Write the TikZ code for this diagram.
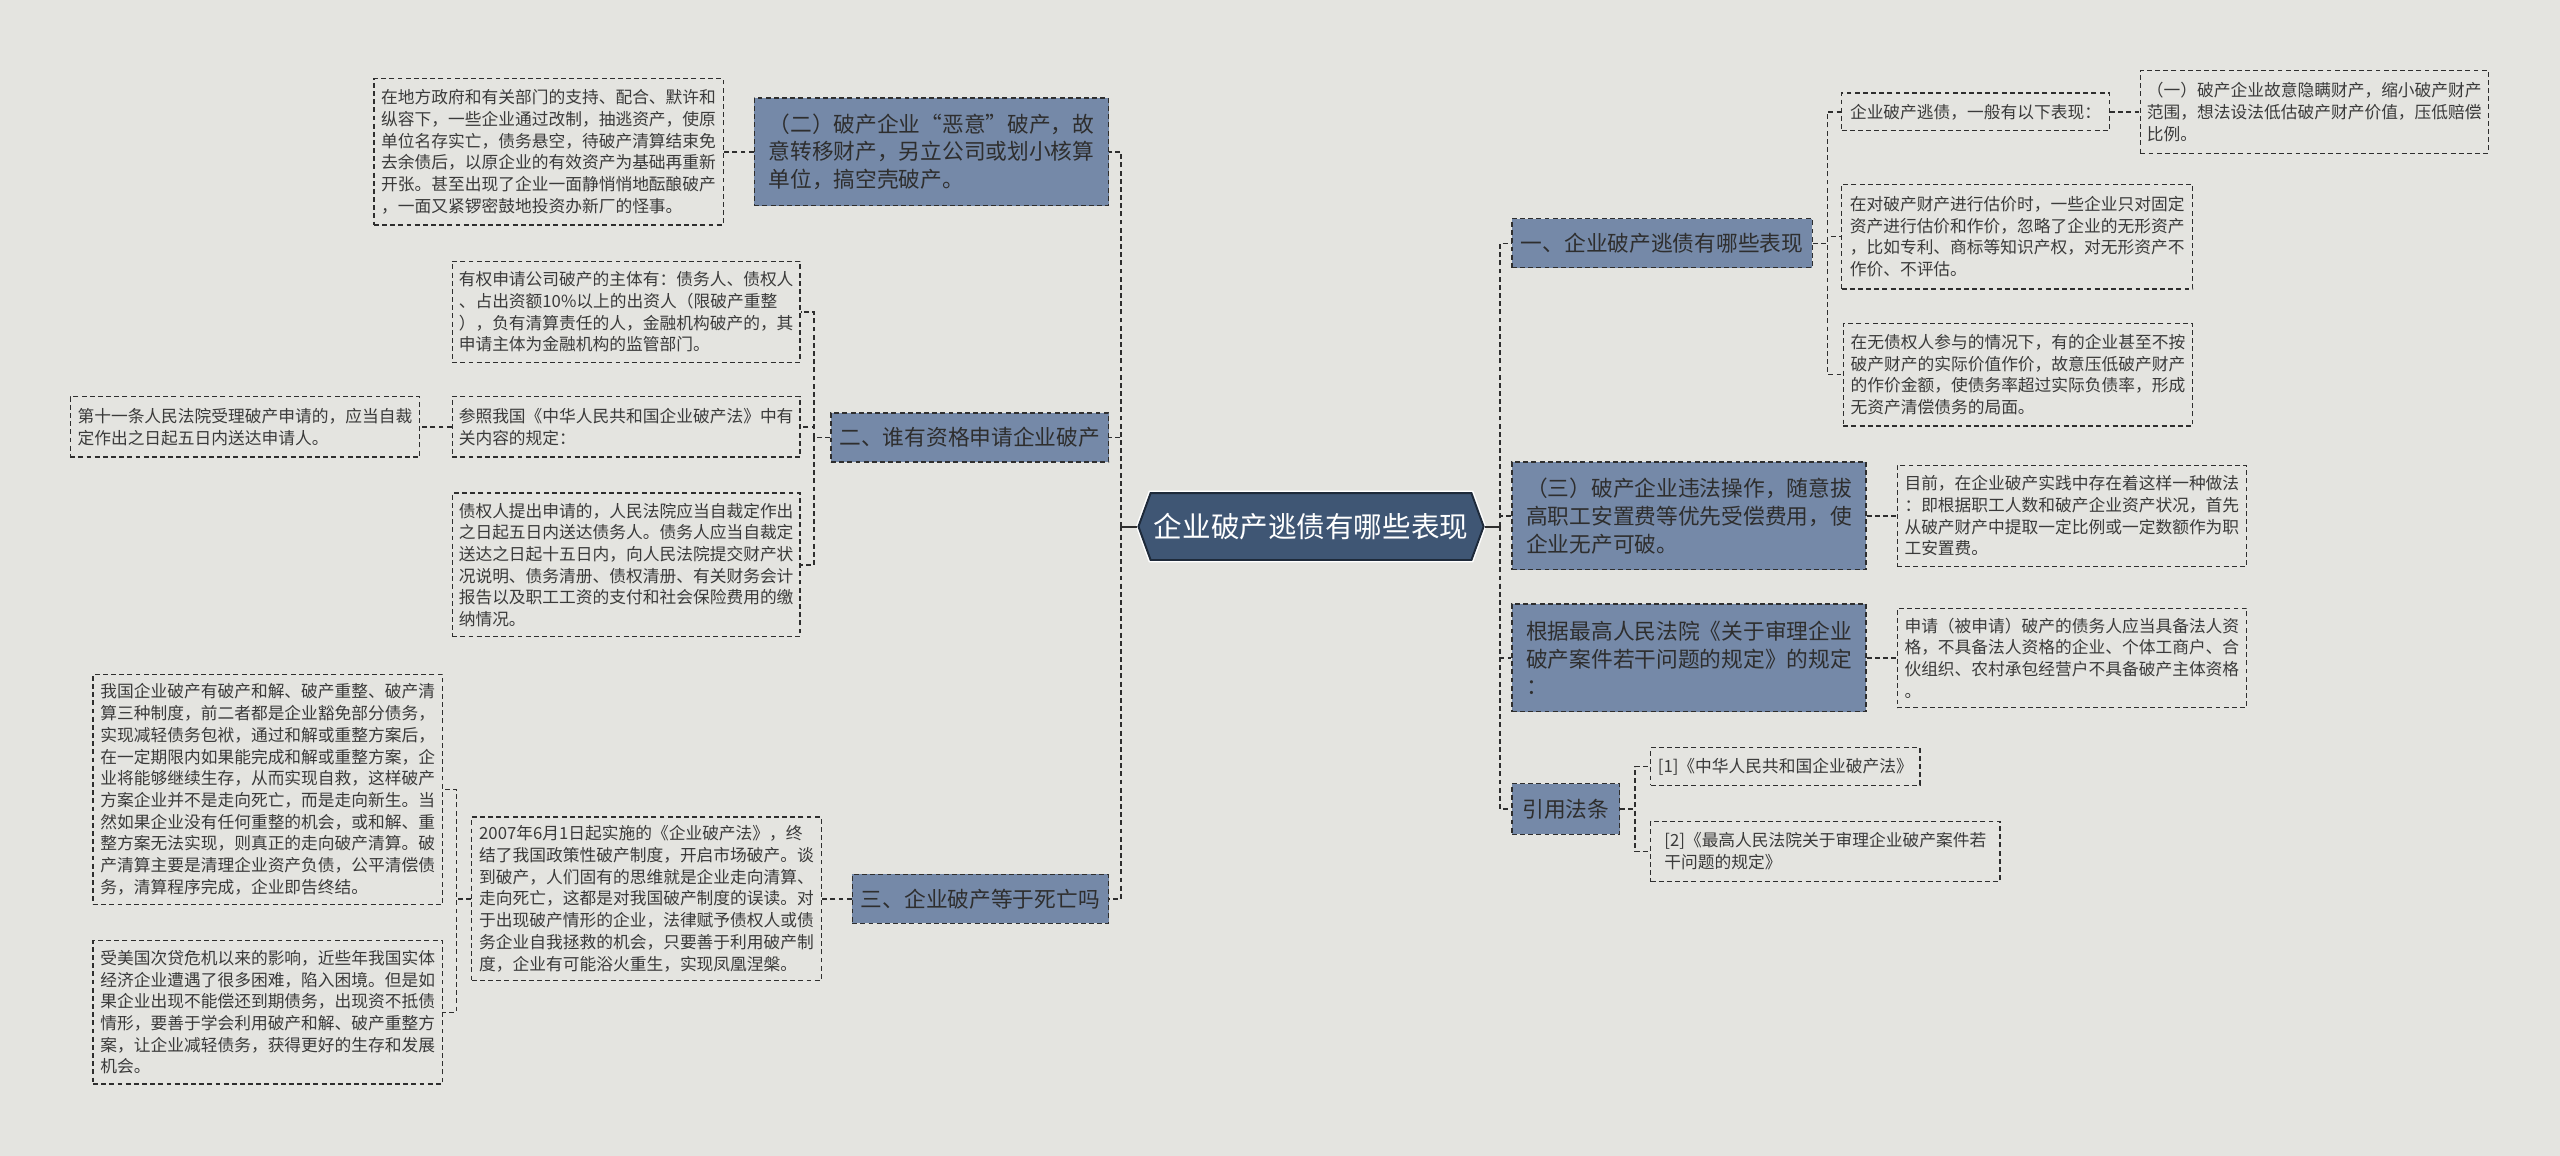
\documentclass[tikz,border=0pt]{standalone}
\usepackage{fontspec}
\setmainfont{Noto Sans CJK SC}
\usepackage{tikz}
\usetikzlibrary{shapes.symbols}
\definecolor{bg}{HTML}{E4E4E0}
\definecolor{rootfill}{HTML}{3F5674}
\definecolor{rootline}{HTML}{1E2A3A}
\definecolor{topicfill}{HTML}{7589A8}
\definecolor{ink}{HTML}{2E2E2E}
\definecolor{leaftext}{HTML}{3A3A3A}

\begin{document}
\begin{tikzpicture}[x=1pt, y=-1pt, font=\fontsize{10.25}{13.3}\selectfont]
	\tikzset{leaf/.style={draw=ink, dash pattern=on 3pt off 2pt, line width=0.8pt, text=leaftext, align=left, inner sep=2pt}}
	\tikzset{topic/.style={leaf, fill=topicfill, text=ink, font=\fontsize{13.3}{17}\selectfont}}
	\tikzset{root/.style={signal, signal to=east and west, signal pointer angle=140, fill=rootfill, draw=rootline, line width=1.2pt, preaction={draw=white, line width=3pt}, text=white, inner sep=2pt, font=\fontsize{17.5}{21}\selectfont}}
	\tikzset{sz/.style 2 args={minimum width=#1pt, minimum height=#2pt}}
	\tikzset{link/.style={draw=ink, line width=0.9pt, dash pattern=on 3pt off 2pt}}
	\tikzset{stub/.style={draw=ink, line width=1.2pt}}
	\fill[bg] (0,0) rectangle (1568,708);
	\useasboundingbox (0,0) rectangle (1568,708);
	% centre
	\node[root, sz={210}{41}] (root) at (803,322.5) {企业破产逃债有哪些表现};
	% left side
	\node[topic, sz={217}{66}] (L2) at (570.5,93) {（二）破产企业“恶意”破产，故\\意转移财产，另立公司或划小核算\\单位，搞空壳破产。};
	\node[topic, sz={170}{30}] (LA) at (594,268) {二、谁有资格申请企业破产};
	\node[topic, sz={157}{30}] (LB) at (600.5,550.5) {三、企业破产等于死亡吗};
	\node[leaf, sz={214}{89.5}] (ll1) at (336,93) {在地方政府和有关部门的支持、配合、默许和\\纵容下，一些企业通过改制，抽逃资产，使原\\单位名存实亡，债务悬空，待破产清算结束免\\去余债后，以原企业的有效资产为基础再重新\\开张。甚至出现了企业一面静悄悄地酝酿破产\\，一面又紧锣密鼓地投资办新厂的怪事。};
	\node[leaf, sz={213}{62}] (ll2) at (383.5,191) {有权申请公司破产的主体有：债务人、债权人\\、占出资额10\%以上的出资人（限破产重整\\），负有清算责任的人，金融机构破产的，其\\申请主体为金融机构的监管部门。};
	\node[leaf, sz={213}{37}] (ll3) at (383.5,261.5) {参照我国《中华人民共和国企业破产法》中有\\关内容的规定：};
	\node[leaf, sz={214}{37}] (ll4) at (150,261.5) {第十一条人民法院受理破产申请的，应当自裁\\定作出之日起五日内送达申请人。};
	\node[leaf, sz={213}{88}] (ll5) at (383.5,346) {债权人提出申请的，人民法院应当自裁定作出\\之日起五日内送达债务人。债务人应当自裁定\\送达之日起十五日内，向人民法院提交财产状\\况说明、债务清册、债权清册、有关财务会计\\报告以及职工工资的支付和社会保险费用的缴\\纳情况。};
	\node[leaf, sz={214}{100}] (ll6) at (396,550.5) {2007年6月1日起实施的《企业破产法》，终\\结了我国政策性破产制度，开启市场破产。谈\\到破产，人们固有的思维就是企业走向清算、\\走向死亡，这都是对我国破产制度的误读。对\\于出现破产情形的企业，法律赋予债权人或债\\务企业自我拯救的机会，只要善于利用破产制\\度，企业有可能浴火重生，实现凤凰涅槃。};
	\node[leaf, sz={214}{141}] (ll7) at (164,483.5) {我国企业破产有破产和解、破产重整、破产清\\算三种制度，前二者都是企业豁免部分债务，\\实现减轻债务包袱，通过和解或重整方案后，\\在一定期限内如果能完成和解或重整方案，企\\业将能够继续生存，从而实现自救，这样破产\\方案企业并不是走向死亡，而是走向新生。当\\然如果企业没有任何重整的机会，或和解、重\\整方案无法实现，则真正的走向破产清算。破\\产清算主要是清理企业资产负债，公平清偿债\\务，清算程序完成，企业即告终结。};
	\node[leaf, sz={214}{88}] (ll8) at (164,620) {受美国次贷危机以来的影响，近些年我国实体\\经济企业遭遇了很多困难，陷入困境。但是如\\果企业出现不能偿还到期债务，出现资不抵债\\情形，要善于学会利用破产和解、破产重整方\\案，让企业减轻债务，获得更好的生存和发展\\机会。};
	% right side
	\node[topic, sz={184}{30}] (R1) at (1018,149) {一、企业破产逃债有哪些表现};
	\node[topic, sz={217}{66}] (R3) at (1034.5,316) {（三）破产企业违法操作，随意拔\\高职工安置费等优先受偿费用，使\\企业无产可破。};
	\node[topic, sz={217}{66}] (R4) at (1034.5,403) {根据最高人民法院《关于审理企业\\破产案件若干问题的规定》的规定\\：};
	\node[topic, sz={66}{31}] (R5) at (959,495.5) {引用法条};
	\node[leaf, sz={164}{23}] (rl1) at (1210,68.5) {企业破产逃债，一般有以下表现：};
	\node[leaf, sz={213}{51}] (rl2) at (1417.5,68.5) {（一）破产企业故意隐瞒财产，缩小破产财产\\范围，想法设法低估破产财产价值，压低赔偿\\比例。};
	\node[leaf, sz={215}{64}] (rl3) at (1235.5,145) {在对破产财产进行估价时，一些企业只对固定\\资产进行估价和作价，忽略了企业的无形资产\\，比如专利、商标等知识产权，对无形资产不\\作价、不评估。};
	\node[leaf, sz={214}{63}] (rl4) at (1236,229.5) {在无债权人参与的情况下，有的企业甚至不按\\破产财产的实际价值作价，故意压低破产财产\\的作价金额，使债务率超过实际负债率，形成\\无资产清偿债务的局面。};
	\node[leaf, sz={214}{62}] (rl5) at (1269,316) {目前，在企业破产实践中存在着这样一种做法\\：即根据职工人数和破产企业资产状况，首先\\从破产财产中提取一定比例或一定数额作为职\\工安置费。};
	\node[leaf, sz={214}{61}] (rl6) at (1269,403) {申请（被申请）破产的债务人应当具备法人资\\格，不具备法人资格的企业、个体工商户、合\\伙组织、农村承包经营户不具备破产主体资格\\。};
	\node[leaf, sz={165}{23}] (rf1) at (1093.5,469.5) {[1]《中华人民共和国企业破产法》};
	\node[leaf, sz={214}{37}] (rf2) at (1118,521.5) {[2]《最高人民法院关于审理企业破产案件若\\干问题的规定》};
	% joints
	\coordinate (jr) at ([xshift=9.5pt]root.east);
	\coordinate (jl) at ([xshift=-10pt]root.west);
	\coordinate (j1) at ([xshift=9pt]R1.east);
	\coordinate (j5) at ([xshift=9pt]R5.east);
	\coordinate (ja) at ([xshift=-10pt]LA.west);
	\coordinate (j6) at ([xshift=-9pt]ll6.west);
	% connectors
	\draw[stub] (root.east) -- (jr);
	\draw[stub] (root.west) -- (jl);
	\foreach \n in {R1,R3,R4,R5} \draw[link] (jr) |- (\n.west);
	\foreach \n in {L2,LA,LB} \draw[link] (jl) |- (\n.east);
	\foreach \n in {rl1,rl3,rl4} \draw[link] (R1.east) -- (j1) |- (\n.west);
	\foreach \n in {rf1,rf2} \draw[link] (R5.east) -- (j5) |- (\n.west);
	\foreach \n in {ll2,ll3,ll5} \draw[link] (LA.west) -- (ja) |- (\n.east);
	\foreach \n in {ll7,ll8} \draw[link] (ll6.west) -- (j6) |- (\n.east);
	\draw[link] (rl1) -- (rl2);
	\draw[link] (R3) -- (rl5);
	\draw[link] (R4) -- (rl6);
	\draw[link] (L2) -- (ll1);
	\draw[link] (ll3) -- (ll4);
	\draw[link] (LB) -- (ll6);
\end{tikzpicture}
\end{document}
